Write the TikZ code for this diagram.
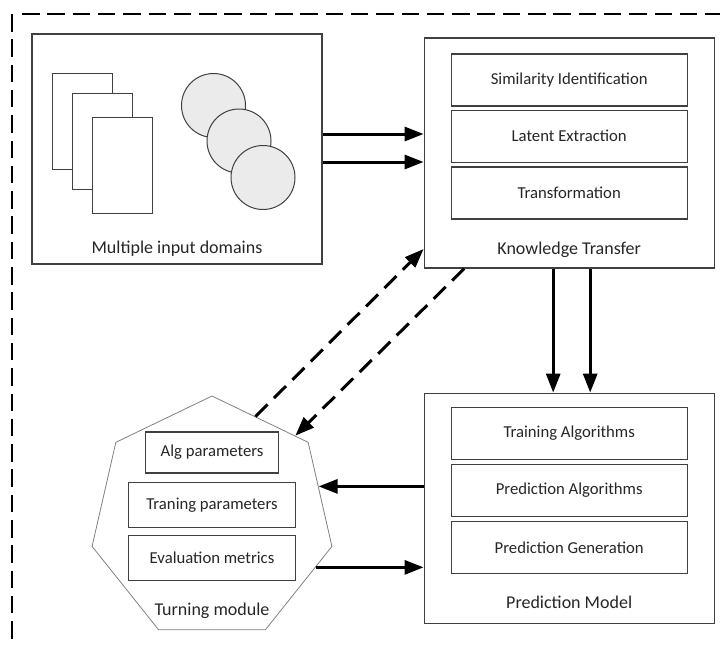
\documentclass[tikz,border=0pt]{standalone}
\usepackage{fontspec}
\setmainfont{Carlito}
\usetikzlibrary{arrows.meta,positioning,calc,shapes.geometric}
\definecolor{linegray}{HTML}{404040}
\definecolor{heptgray}{HTML}{808080}
\definecolor{discgray}{HTML}{EBEBEB}
\definecolor{txtgray}{HTML}{262626}

\begin{document}
\begin{tikzpicture}[
  box/.style={draw=linegray,line width=1.2pt,fill=white,minimum width=290pt,minimum height=230pt,inner sep=0pt},
  inbox/.style={draw=linegray,line width=1.2pt,minimum width=236pt,minimum height=52pt,inner sep=0pt,font=\fontsize{16.7}{20}\selectfont,text=txtgray},
  pbox/.style={inbox,minimum width=167pt,minimum height=45pt},
  lbl/.style={font=\fontsize{18}{22}\selectfont,text=txtgray,inner sep=0pt},
  page/.style={draw=linegray,line width=1pt,fill=white,minimum width=60pt,minimum height=96pt,inner sep=0pt},
  disc/.style={circle,draw=linegray,line width=1pt,fill=discgray,minimum size=64pt,inner sep=0pt},
  hept/.style={regular polygon,regular polygon sides=7,minimum size=246pt,inner sep=0pt,draw=heptgray,line width=0.8pt},
  arr/.style={-{Triangle[length=19pt,width=14pt]},line width=3pt},
  darr/.style={arr,dash pattern=on 17pt off 9pt},
  frame/.style={line width=2.6pt,dash pattern=on 17.5pt off 7.8pt}]
      \useasboundingbox (0,0) rectangle (720pt,-646pt);
      % outer dashed frame
      \draw[frame] (22pt,-14pt) -- (720pt,-14pt);
      \draw[frame] (12pt,-14pt) -- (12pt,-646pt);
      % input domains
      \node[box] (inputs) at (177pt,-149pt) {};
      \node[page] (page1) at ([shift={(-95pt,28pt)}]inputs.center) {};
      \node[page] (page2) at ([shift={(-75pt,8pt)}]inputs.center) {};
      \node[page] (page3) at ([shift={(-55pt,-16pt)}]inputs.center) {};
      \node[disc] (disc1) at ([shift={(36.5pt,43.5pt)}]inputs.center) {};
      \node[disc] (disc2) at ([shift={(62pt,8pt)}]inputs.center) {};
      \node[disc] (disc3) at ([shift={(86pt,-28.5pt)}]inputs.center) {};
      \node[lbl] (inlbl) at ([yshift=16pt]inputs.south) {Multiple input domains};
      % knowledge transfer
      \node[box,right=101pt of inputs,yshift=-4pt] (kt) {};
      \node[inbox,below=16pt of kt.north] (sim) {Similarity Identification};
      \node[inbox,below=3pt of sim] (lat) {Latent Extraction};
      \node[inbox,below=3.5pt of lat] (trf) {Transformation};
      \node[lbl] (ktlbl) at ([yshift=19pt]kt.south) {Knowledge Transfer};
      % prediction model
      \node[box,below=124pt of kt] (pm) {};
      \node[inbox,below=14pt of pm.north] (tra) {Training Algorithms};
      \node[inbox,below=4pt of tra] (pra) {Prediction Algorithms};
      \node[inbox,below=4pt of pra] (prg) {Prediction Generation};
      \node[lbl] (pmlbl) at ([yshift=21pt]pm.south) {Prediction Model};
      % tuning module
      \node[hept] (tune) at (212pt,-519pt) {};
      \node[pbox,minimum width=133pt,minimum height=41pt] (alg) at ([yshift=66.5pt]tune.center) {Alg parameters};
      \node[pbox,below=8pt of alg] (trn) {Traning parameters};
      \node[pbox,below=7pt of trn] (evm) {Evaluation metrics};
      \node[lbl] (tulbl) at ([yshift=-92pt]tune.center) {Turning module};
      % connectors
      \draw[arr] ([yshift=15pt]inputs.east) -- ([yshift=15pt]inputs.east -| kt.west);
      \draw[arr] ([yshift=-13pt]inputs.east) -- ([yshift=-13pt]inputs.east -| kt.west);
      \draw[arr] ([xshift=-16pt]kt.south) -- ([xshift=-16pt]kt.south |- pm.north);
      \draw[arr] ([xshift=21pt]kt.south) -- ([xshift=21pt]kt.south |- pm.north);
      \draw[arr] (tune.17.4 -| pm.west) -- (tune.17.4);
      \draw[arr] (tune.-25.9) -- (tune.-25.9 -| pm.west);
      \draw[darr] (tune.67.2) -- ([yshift=-96pt]kt.west);
      \draw[darr] ([xshift=-105pt]kt.south) -- (tune.45);
    \end{tikzpicture}
\end{document}
